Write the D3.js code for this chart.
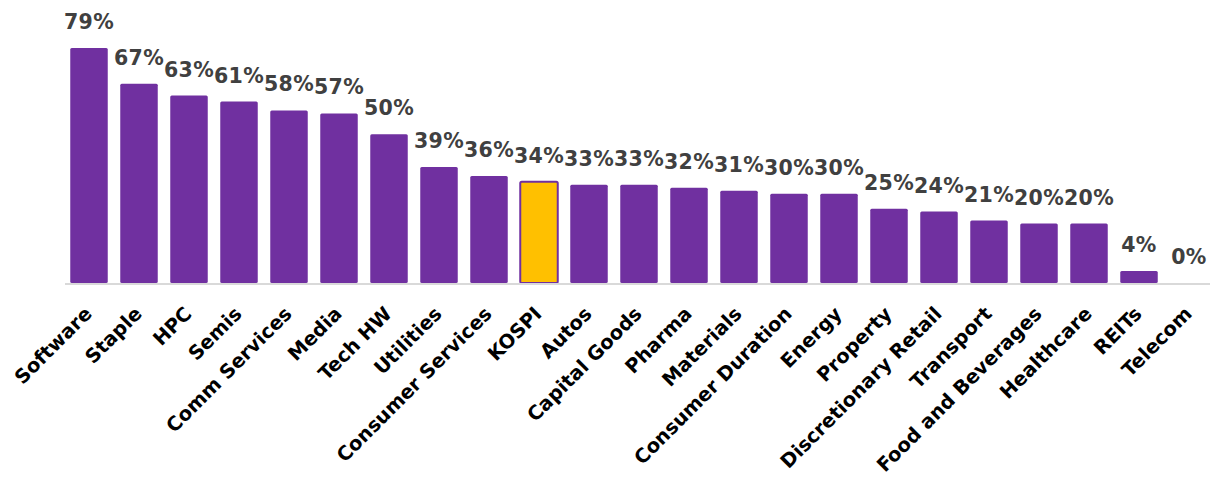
<!DOCTYPE html>
<html>
<head>
<meta charset="utf-8">
<script src="https://cdn.jsdelivr.net/npm/d3@7"></script>
<style>
  html, body { margin: 0; padding: 0; background: #ffffff; }
  svg { display: block; }
</style>
</head>
<body>
<svg id="chart" width="1211" height="481"></svg>
<script>
const categories = ["Software", "Staple", "HPC", "Semis", "Comm Services", "Media", "Tech HW",
  "Utilities", "Consumer Services", "KOSPI", "Autos", "Capital Goods", "Pharma", "Materials",
  "Consumer Duration", "Energy", "Property", "Discretionary Retail", "Transport",
  "Food and Beverages", "Healthcare", "REITs", "Telecom"];
const values = [0.79, 0.67, 0.63, 0.61, 0.58, 0.57, 0.50, 0.39, 0.36, 0.34, 0.33, 0.33, 0.32,
  0.31, 0.30, 0.30, 0.25, 0.24, 0.21, 0.20, 0.20, 0.04, 0.00];
const highlight = ["KOSPI"];

const data = categories.map((c, i) => ({ cat: c, val: values[i] }));

const svg = d3.select("#chart");
const baseY = 283;

const x = d3.scaleBand()
  .domain(categories)
  .range([64, 1214])
  .paddingInner(0.25)
  .paddingOuter(0.125);

const y = d3.scaleLinear()
  .domain([0, 1])
  .range([baseY, baseY - 297.5]);

// bars
svg.append("g").selectAll("rect")
  .data(data)
  .join("rect")
  .attr("x", d => x(d.cat))
  .attr("y", d => y(d.val))
  .attr("width", x.bandwidth())
  .attr("height", d => y(0) - y(d.val))
  .attr("rx", 1.5)
  .attr("fill", d => highlight.includes(d.cat) ? "#ffc000" : "#7030a0")
  .attr("stroke", d => highlight.includes(d.cat) ? "#7030a0" : "none")
  .attr("stroke-width", 2);

// baseline axis
svg.append("line")
  .attr("x1", 65).attr("x2", 1210)
  .attr("y1", baseY + 1).attr("y2", baseY + 1)
  .attr("stroke", "#d9d9d9")
  .attr("stroke-width", 2);

// value labels
svg.append("g").selectAll("text")
  .data(data)
  .join("text")
  .attr("x", d => x(d.cat) + x.bandwidth() / 2)
  .attr("y", d => y(d.val) - 19)
  .attr("text-anchor", "middle")
  .attr("font-family", "DejaVu Sans, sans-serif")
  .attr("font-weight", "bold")
  .attr("font-size", 20.5)
  .attr("letter-spacing", 0.3)
  .attr("fill", "#404040")
  .text(d => d3.format(".0%")(d.val));

// category labels
const xAxis = d3.axisBottom(x).tickSize(0).tickPadding(0);
const gx = svg.append("g")
  .attr("transform", `translate(0,${baseY})`)
  .call(xAxis);
gx.select(".domain").remove();
gx.selectAll("text")
  .attr("font-family", "DejaVu Sans, sans-serif")
  .attr("font-weight", "bold")
  .attr("font-size", 19.5)
  .attr("fill", "#000000")
  .attr("text-anchor", "end")
  .attr("dy", null)
  .attr("y", 0)
  .attr("transform", "translate(4,32) rotate(-45)");
</script>
</body>
</html>
